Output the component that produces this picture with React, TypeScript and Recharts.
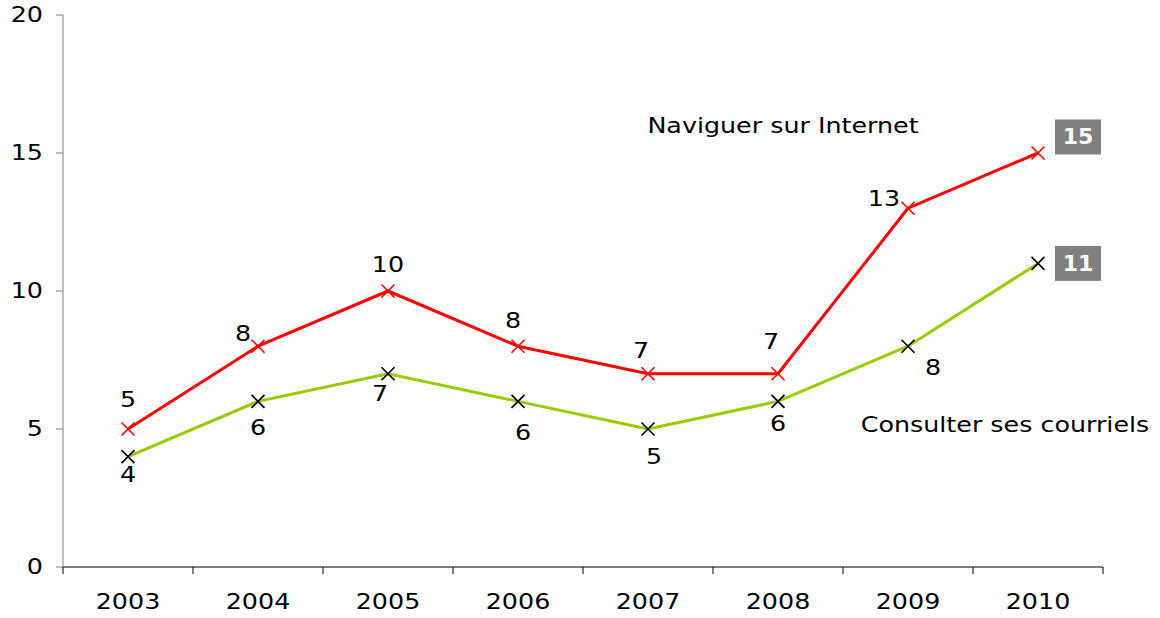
import { LineChart, Line, XAxis, YAxis, LabelList, ReferenceDot } from 'recharts';

const years = ['2003', '2004', '2005', '2006', '2007', '2008', '2009', '2010'];
const naviguer = [5, 8, 10, 8, 7, 7, 13, 15];
const courriels = [4, 6, 7, 6, 5, 6, 8, 11];
const yTicks = [0, 5, 10, 15, 20];

// label offsets from each point ([dx, dy]); null = grey value box on the right
const navLabelOffsets: ([number, number] | null)[] = [[0, -29], [-15, -13], [0, -26], [-5, -26], [-7, -23], [-7, -32], [-24, -10], null];
const mailLabelOffsets: ([number, number] | null)[] = [[0, 18], [0, 26], [-8, 20], [5, 31], [6, 28], [0, 22], [25, 21], null];

const data = years.map((year, i) => ({ year, nav: naviguer[i], mail: courriels[i] }));

const FONT = '"DejaVu Sans", Verdana, sans-serif';
const FS = 21.5;
const STRETCH = 1.18;
const RED = '#ff0000';
const GREEN = '#99cc00';
const HALF_STEP = 65;

// Verdana-like wide text: DejaVu stretched horizontally around its anchor
const WideText = ({ x, y, anchor = 'middle', fill = '#000', bold = false, stretch = STRETCH, size = FS, children }: any) => (
    <g transform={`translate(${x},${y}) scale(${stretch},1)`}>
        <text
            x={0}
            y={0}
            textAnchor={anchor}
            dominantBaseline="central"
            fill={fill}
            fontWeight={bold ? 'bold' : 'normal'}
            fontSize={size}
            fontFamily={FONT}
        >
            {children}
        </text>
    </g>
);

const CrossDot = ({ cx, cy, color }: any) => {
    if (cx == null || cy == null) return null;
    const s = 6.5;
    return (
        <path
            d={`M${cx - s},${cy - s}L${cx + s},${cy + s}M${cx - s},${cy + s}L${cx + s},${cy - s}`}
            stroke={color}
            strokeWidth={1.6}
            fill="none"
        />
    );
};

const makeLabel = (offsets: ([number, number] | null)[], boxShift: number) => (props: any) => {
    const { x, y, value, index } = props;
    const off = offsets[index];
    if (!off) {
        return (
            <g>
                <rect x={x + 17} y={y - 17.5 - boxShift} width={46} height={35} fill="#808080" />
                <WideText x={x + 40} y={y - boxShift} fill="#fff" bold stretch={1.05} size={21}>
                    {value}
                </WideText>
            </g>
        );
    }
    return (
        <WideText x={x + off[0]} y={y + off[1]}>
            {value}
        </WideText>
    );
};

const XTick = (props: any) => {
    const { x, y, payload, index } = props;
    const last = index === years.length - 1;
    return (
        <g>
            <line x1={x - HALF_STEP} y1={y - 8} x2={x - HALF_STEP} y2={y - 1} stroke="#000" strokeWidth={1} />
            {last && <line x1={x + HALF_STEP} y1={y - 8} x2={x + HALF_STEP} y2={y - 1} stroke="#000" strokeWidth={1} />}
            <WideText x={x} y={y + 27}>
                {payload.value}
            </WideText>
        </g>
    );
};

const YTick = (props: any) => {
    const { x, y, payload } = props;
    return (
        <WideText x={x} y={y} anchor="end">
            {payload.value}
        </WideText>
    );
};

const Annotation = (text: string, dx: number) => (props: any) => {
    const { viewBox } = props;
    const cx = viewBox.x + viewBox.width / 2;
    const cy = viewBox.y + viewBox.height / 2;
    return (
        <WideText x={cx + dx} y={cy}>
            {text}
        </WideText>
    );
};

export default function App() {
    return (
        <div style={{ width: 1160, height: 618, background: '#fff' }}>
            <style>{'body{margin:0;}'}</style>
            <LineChart width={1160} height={618} data={data} margin={{ top: 15, right: 57, left: 13, bottom: 0 }}>
                <XAxis
                    dataKey="year"
                    padding={{ left: HALF_STEP, right: HALF_STEP }}
                    axisLine={{ stroke: '#000', strokeWidth: 1 }}
                    tickLine={false}
                    tick={<XTick />}
                    interval={0}
                    height={51}
                />
                <YAxis
                    domain={[0, 20]}
                    ticks={yTicks}
                    width={50}
                    axisLine={{ stroke: '#808080', strokeWidth: 1 }}
                    tickLine={{ stroke: '#808080' }}
                    tickSize={7}
                    tick={<YTick />}
                    tickMargin={13}
                />
                <Line
                    dataKey="nav"
                    stroke={RED}
                    strokeWidth={3}
                    isAnimationActive={false}
                    dot={<CrossDot color={RED} />}
                    activeDot={false}
                >
                    <LabelList dataKey="nav" content={makeLabel(navLabelOffsets, 16)} />
                </Line>
                <Line
                    dataKey="mail"
                    stroke={GREEN}
                    strokeWidth={3}
                    isAnimationActive={false}
                    dot={<CrossDot color="#000" />}
                    activeDot={false}
                >
                    <LabelList dataKey="mail" content={makeLabel(mailLabelOffsets, 0)} />
                </Line>
                <ReferenceDot x="2008" y={16} r={0} stroke="none" label={Annotation('Naviguer sur Internet', 5)} />
                <ReferenceDot x="2010" y={5.15} r={0} stroke="none" label={Annotation('Consulter ses courriels', -33)} />
            </LineChart>
        </div>
    );
}
